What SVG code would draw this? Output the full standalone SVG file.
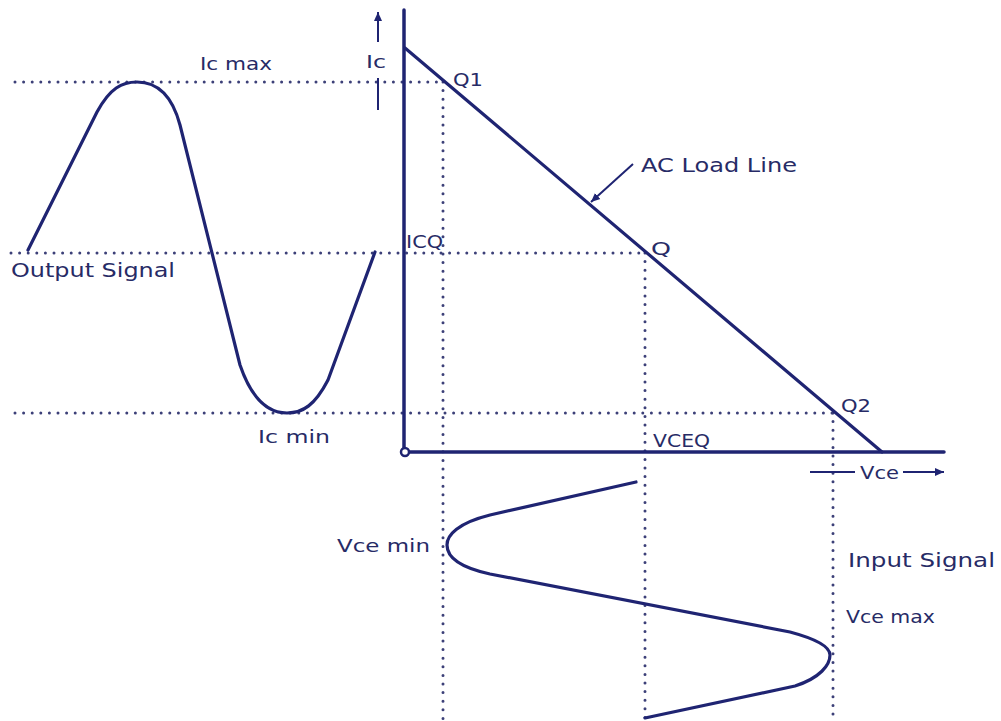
<svg xmlns="http://www.w3.org/2000/svg" width="1001" height="721" viewBox="0 0 1001 721">
<style>
.ax{stroke:#1f2472;stroke-width:3.5;fill:none;stroke-linecap:round}
.ln{stroke:#1f2472;stroke-width:3.2;fill:none;stroke-linejoin:round;stroke-linecap:round}
.thin{stroke:#1f2472;stroke-width:2;fill:none}
.dot{stroke:#3c4078;stroke-width:3;stroke-dasharray:0 8.6;stroke-linecap:round;fill:none}
text{font-family:"DejaVu Sans","Liberation Sans",sans-serif;fill:#272b66}
.big{font-size:19px}
.sm{font-size:17px}
</style>
<defs>
<marker id="ah" markerWidth="10" markerHeight="10" refX="9" refY="5" orient="auto" markerUnits="userSpaceOnUse">
<path d="M0,1 L9,5 L0,9 Z" fill="#1f2472"/>
</marker>
</defs>
<rect width="1001" height="721" fill="#ffffff"/>
<g id="guides">
<path class="dot" d="M15 82 H445"/>
<path class="dot" d="M11 253 H647"/>
<path class="dot" d="M15 413 H836"/>
<path class="dot" d="M443 82 V721"/>
<path class="dot" d="M645 253 V721"/>
<path class="dot" d="M833 413 V721"/>
</g>
<g id="axes">
<path class="ax" d="M404 10 V449"/>
<path class="ax" d="M408 452 H944"/>
<circle cx="405" cy="452" r="4" fill="#fff" stroke="#1f2472" stroke-width="2.5"/>
</g>
<g id="load-line">
<path class="ln" d="M405 48 L882 452"/>
</g>
<g id="connectors">
<path class="thin" d="M378 42 V12" marker-end="url(#ah)"/>
<path class="thin" d="M378 78 V110"/>
<path class="thin" d="M633 164 L591 202" marker-end="url(#ah)"/>
<path class="thin" d="M810 472 H855"/>
<path class="thin" d="M903 472 H944" marker-end="url(#ah)"/>
</g>
<g id="output-signal">
<path class="ln" d="M28 250 L97 112 C110 88 122 82 137 82 C157 82 172 95 180 125 L240 365 C252 400 268 413 287 413 C303 413 315 405 328 380 L375 252"/>
</g>
<g id="input-signal">
<path class="ln" d="M636 482 L490 515 C458 523 447 535 447 545 C447 557 458 567 490 574 L790 632 C820 640 830 648 830 655 C830 665 820 678 795 686 L645 718"/>
</g>
<g id="labels">
<text class="sm" x="200" y="70" textLength="72" lengthAdjust="spacingAndGlyphs">Ic max</text>
<text class="sm" x="366" y="68" textLength="20" lengthAdjust="spacingAndGlyphs">Ic</text>
<text class="sm" x="453" y="86" textLength="30" lengthAdjust="spacingAndGlyphs">Q1</text>
<text class="big" x="641" y="172" textLength="156" lengthAdjust="spacingAndGlyphs">AC Load Line</text>
<text class="sm" x="406" y="248" textLength="37" lengthAdjust="spacingAndGlyphs">ICQ</text>
<text class="sm" x="651" y="255" textLength="20" lengthAdjust="spacingAndGlyphs">Q</text>
<text class="big" x="11" y="277" textLength="164" lengthAdjust="spacingAndGlyphs">Output Signal</text>
<text class="sm" x="841" y="412" textLength="30" lengthAdjust="spacingAndGlyphs">Q2</text>
<text class="sm" x="258" y="443" textLength="72" lengthAdjust="spacingAndGlyphs">Ic min</text>
<text class="sm" x="653" y="447" textLength="57" lengthAdjust="spacingAndGlyphs">VCEQ</text>
<text class="sm" x="860" y="479" textLength="39" lengthAdjust="spacingAndGlyphs">Vce</text>
<text class="sm" x="337" y="552" textLength="93" lengthAdjust="spacingAndGlyphs">Vce min</text>
<text class="big" x="848" y="567" textLength="147" lengthAdjust="spacingAndGlyphs">Input Signal</text>
<text class="sm" x="846" y="623" textLength="89" lengthAdjust="spacingAndGlyphs">Vce max</text>
</g>
</svg>
